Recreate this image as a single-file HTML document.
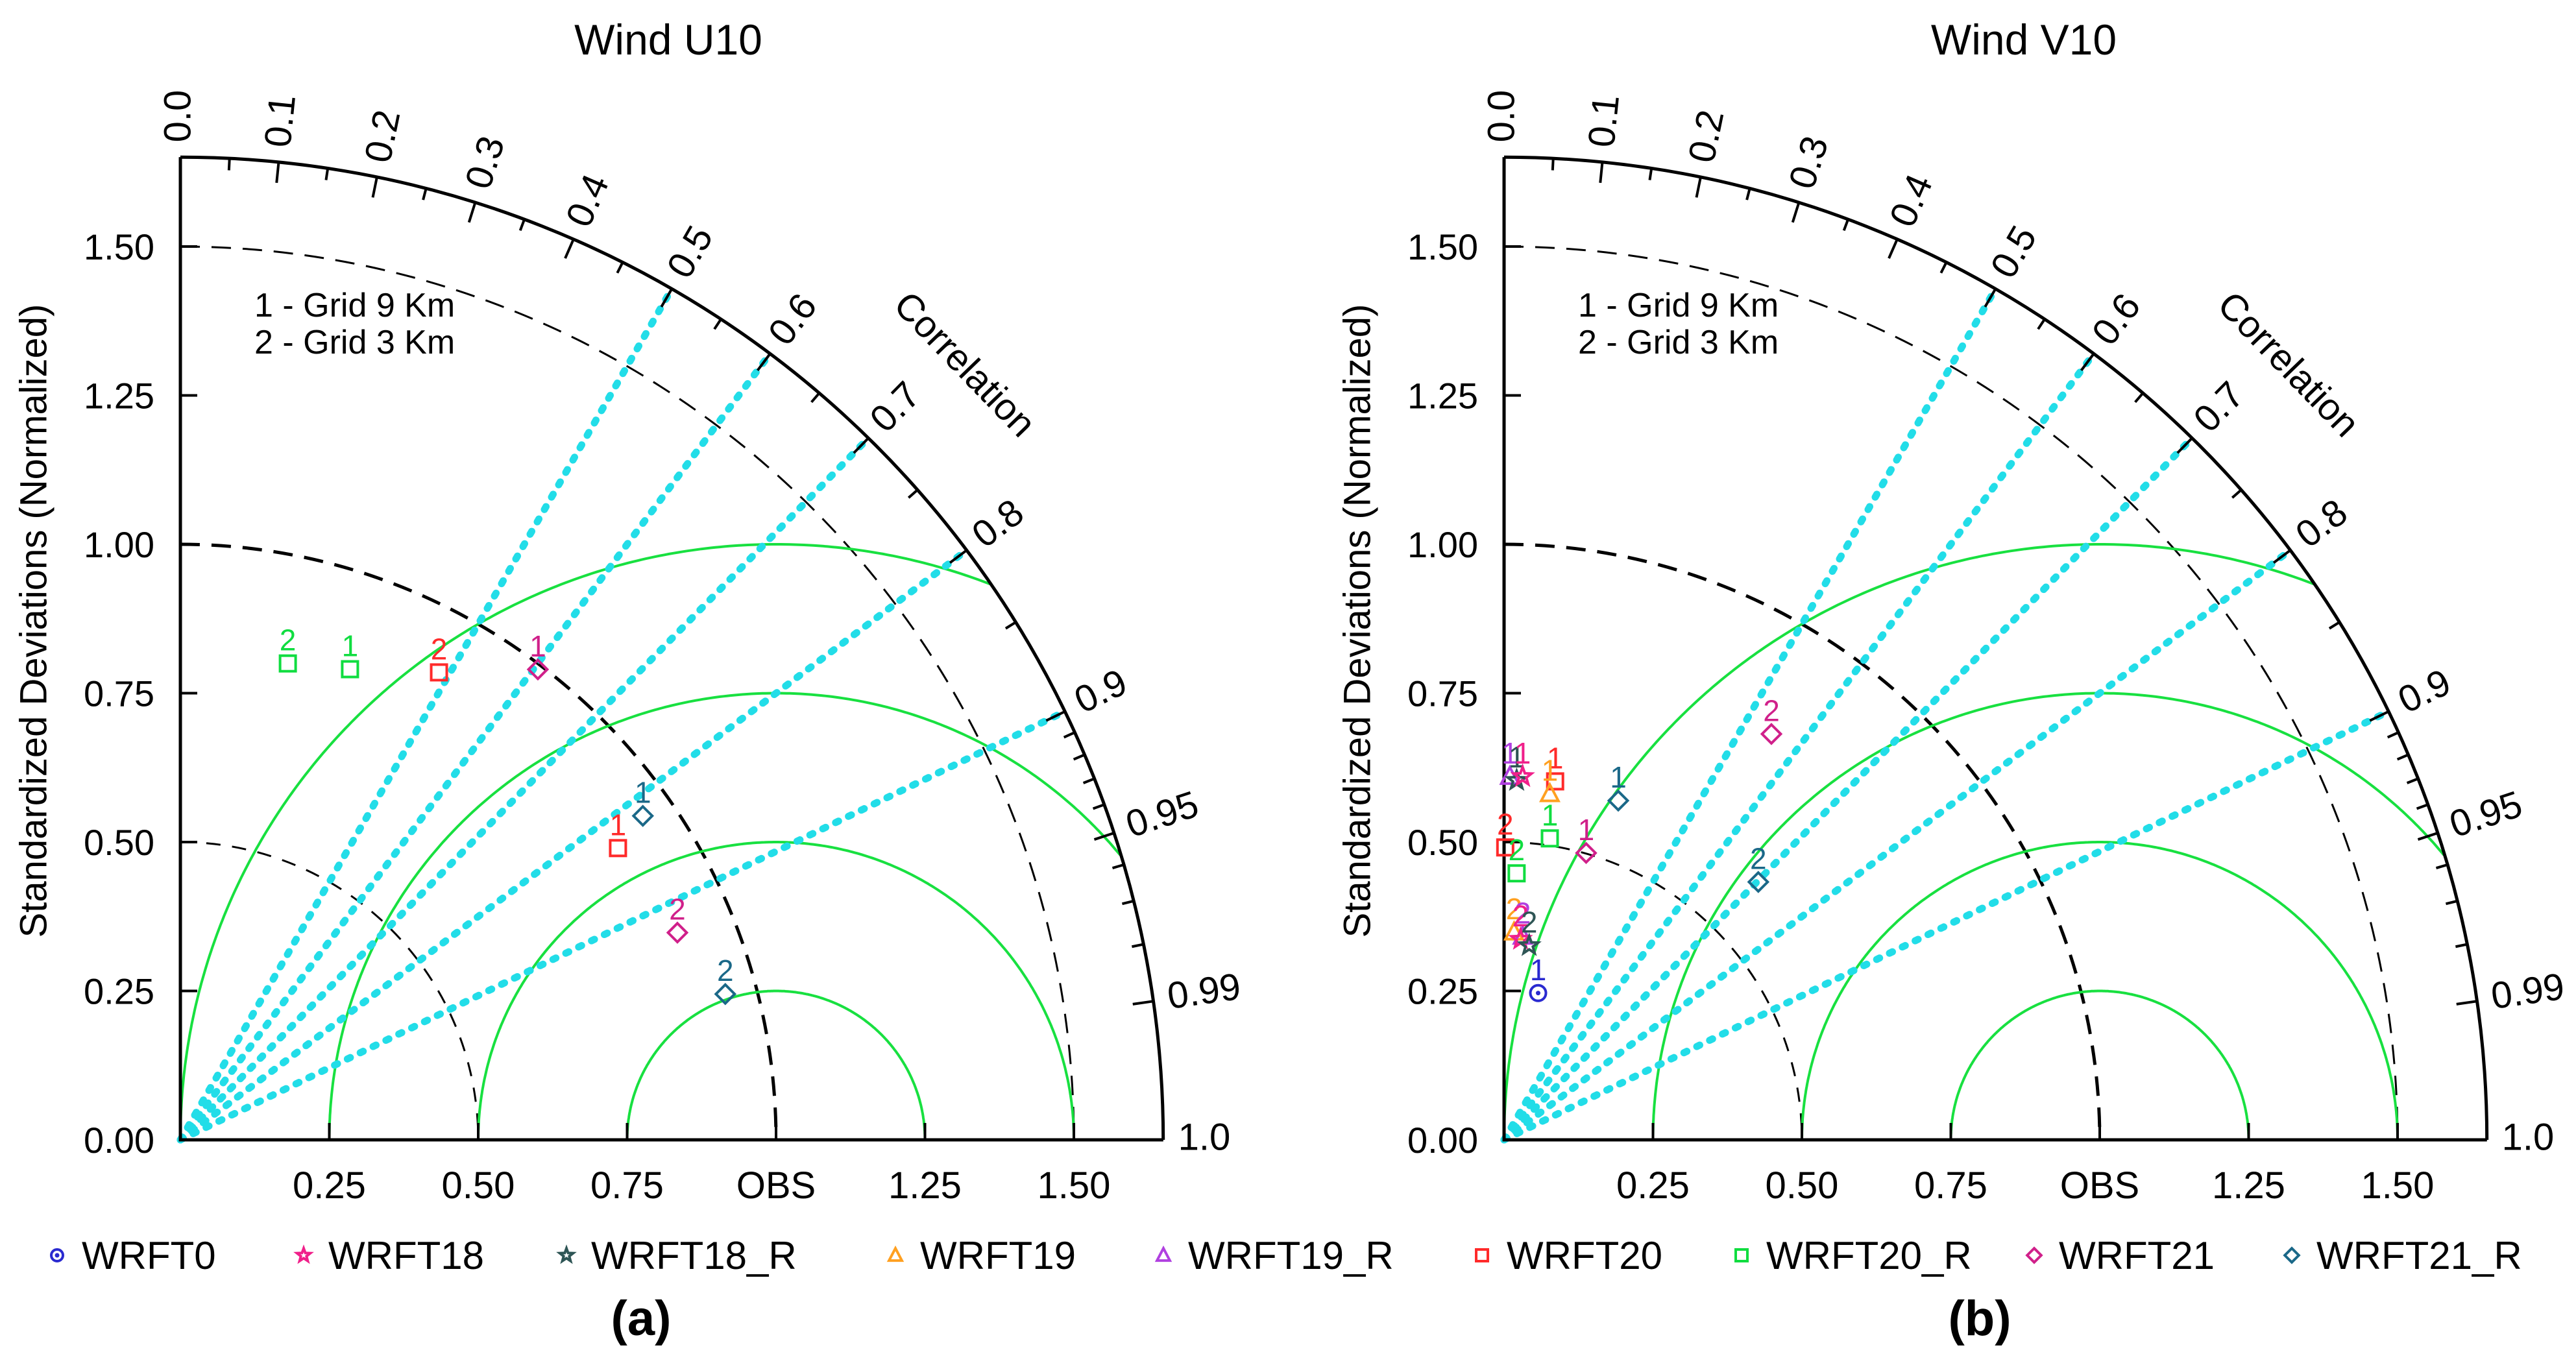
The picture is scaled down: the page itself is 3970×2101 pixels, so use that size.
<!DOCTYPE html>
<html><head><meta charset="utf-8"><style>
html,body{margin:0;padding:0;background:#fff;}
svg{display:block;font-family:"Liberation Sans",sans-serif;}
</style></head><body>
<svg id="fig" width="3970" height="2101" viewBox="0 0 3970 2101" xmlns="http://www.w3.org/2000/svg"></svg>
<script>
// ---- data ----
const seriesNames = ["WRFT0","WRFT18","WRFT18_R","WRFT19","WRFT19_R","WRFT20","WRFT20_R","WRFT21","WRFT21_R"];
const corrTickLabels = ["0.0","0.1","0.2","0.3","0.4","0.5","0.6","0.7","0.8","0.9","0.95","0.99","1.0"];
const corrTickValues = [0,0.1,0.2,0.3,0.4,0.5,0.6,0.7,0.8,0.9,0.95,0.99,1.0];
const stdTickValues = [0,0.25,0.5,0.75,1.0,1.25,1.5];
const stdTickLabels = ["0.00","0.25","0.50","0.75","1.00","1.25","1.50"];
const xTickLabels = ["","0.25","0.50","0.75","OBS","1.25","1.50"];
const refCorr = [0.5,0.6,0.7,0.8,0.9];
const rmsRadii = [0.25,0.5,0.75,1.0];
// U10 points
const u10Series = ["WRFT20_R","WRFT20_R","WRFT20","WRFT21","WRFT21_R","WRFT20","WRFT21","WRFT21_R"];
const u10Grid = ["2","1","2","1","1","1","2","2"];
const u10Std = [0.820,0.840,0.897,0.992,0.948,0.883,0.904,0.947];
const u10Corr = [0.220,0.339,0.484,0.605,0.819,0.832,0.923,0.966];
// V10 points
const v10Series = ["WRFT0","WRFT21","WRFT21_R","WRFT21","WRFT21_R","WRFT20","WRFT19","WRFT20_R","WRFT20","WRFT20_R","WRFT19_R","WRFT18_R","WRFT18","WRFT19","WRFT19_R","WRFT18","WRFT18_R"];
const v10Grid = ["1","2","1","1","2","1","1","1","2","2","1","1","1","2","2","2","2"];
const v10Std = [0.253,0.816,0.601,0.501,0.608,0.608,0.586,0.512,0.491,0.448,0.610,0.604,0.611,0.349,0.343,0.338,0.329];
const v10Corr = [0.226,0.550,0.319,0.275,0.702,0.141,0.131,0.150,0.004,0.047,0.016,0.035,0.051,0.048,0.091,0.082,0.128];

const styleMap = {
 "WRFT0":{c:"#2a2ad0",m:"circle"},"WRFT18":{c:"#f0208a",m:"star"},"WRFT18_R":{c:"#2e5555",m:"star"},
 "WRFT19":{c:"#ffa020",m:"tri"},"WRFT19_R":{c:"#b040e0",m:"tri"},"WRFT20":{c:"#ff2a2a",m:"square"},
 "WRFT20_R":{c:"#10dd40",m:"square"},"WRFT21":{c:"#d0208a",m:"diamond"},"WRFT21_R":{c:"#1a6888",m:"diamond"}
};
const NS="http://www.w3.org/2000/svg";
const svg=document.getElementById('fig');
function el(tag,attrs,parent,text){const e=document.createElementNS(NS,tag);for(const k in attrs)e.setAttribute(k,attrs[k]);if(text!==undefined)e.textContent=text;(parent||svg).appendChild(e);return e;}
const U=918, RMAX=1.65;

function marker(g,type,color,cx,cy,s){
 let e;
 if(type==="square") e=el('rect',{x:cx-s/2,y:cy-s/2,width:s,height:s,fill:'none',stroke:color,'stroke-width':4},g);
 else if(type==="diamond") e=el('polygon',{points:`${cx},${cy-s*0.6} ${cx+s*0.6},${cy} ${cx},${cy+s*0.6} ${cx-s*0.6},${cy}`,fill:'none',stroke:color,'stroke-width':4},g);
 else if(type==="tri") e=el('polygon',{points:`${cx},${cy-s*0.6} ${cx+s*0.55},${cy+s*0.45} ${cx-s*0.55},${cy+s*0.45}`,fill:'none',stroke:color,'stroke-width':4},g);
 else if(type==="circle"){e=el('circle',{cx:cx,cy:cy,r:s*0.5,fill:'none',stroke:color,'stroke-width':4},g);el('circle',{cx:cx,cy:cy,r:3.5,fill:color},g);}
 else { let p=[];for(let i=0;i<10;i++){const a=-Math.PI/2+i*Math.PI/5;const r=i%2?s*0.25:s*0.6;p.push((cx+r*Math.cos(a)).toFixed(1)+","+(cy+r*Math.sin(a)).toFixed(1));}
   e=el('polygon',{points:p.join(' '),fill:'none',stroke:color,'stroke-width':4},g);}
 return e;
}

function chart(ox,oy,title,tx,stdArr,corrArr,serArr,gridArr,key,panel,px){
 const g=el('g',{});
 
 
 const X=(v)=>ox+v*U, Y=(v)=>oy-v*U;
 const polar=(s,r)=>{const a=Math.acos(r);return [ox+s*U*Math.cos(a), oy-s*U*Math.sin(a)];};
 [[0.5,3,"22 18"],[1.0,5,"30 18"],[1.5,3,"30 18"]].forEach(([s,w,d])=>{
  const a=el('path',{d:`M${ox},${Y(s)} A${s*U},${s*U} 0 0 1 ${X(s)},${oy}`,fill:'none',stroke:'#000','stroke-width':w,'stroke-dasharray':d},g);
  
  
 });
 rmsRadii.forEach(rr=>{
  let pts=[];
  for(let i=0;i<=400;i++){const t=Math.PI*i/400;const x=1+rr*Math.cos(t), y=rr*Math.sin(t);
   if(x<0)continue; if(x*x+y*y>RMAX*RMAX)continue; pts.push(X(x).toFixed(1)+","+Y(y).toFixed(1));}
  const p=el('polyline',{points:pts.join(' '),fill:'none',stroke:'#18e040','stroke-width':4},g);
  
  
 });
 refCorr.forEach(r=>{
  const [x2,y2]=polar(RMAX,r);
  const l=el('line',{x1:ox,y1:oy,x2:x2,y2:y2,stroke:'#22dde8','stroke-width':11,'stroke-linecap':'round','stroke-dasharray':'5 17'},g);
  
  
 });
 const ax=el('path',{d:`M${ox},${Y(RMAX)} L${ox},${oy} L${X(RMAX)},${oy}`,fill:'none',stroke:'#000','stroke-width':5},g);
 
 
 const oa=el('path',{d:`M${ox},${Y(RMAX)} A${RMAX*U},${RMAX*U} 0 0 1 ${X(RMAX)},${oy}`,fill:'none',stroke:'#000','stroke-width':5},g);
 
 
 stdTickValues.forEach((v,i)=>{
  el('line',{x1:ox,y1:Y(v),x2:ox+26,y2:Y(v),stroke:'#000','stroke-width':4},g);
  const t=el('text',{x:ox-40,y:Y(v)+20,'font-size':56,'text-anchor':'end'},g,stdTickLabels[i]);
  
  
  if(v>0){
   el('line',{x1:X(v),y1:oy,x2:X(v),y2:oy-26,stroke:'#000','stroke-width':4},g);
   const tx2=el('text',{x:X(v),y:oy+90,'font-size':58,'text-anchor':'middle'},g,xTickLabels[i]);
   
   
  }
 });
 const minor=[0.05,0.15,0.25,0.35,0.45,0.55,0.65,0.75,0.85,0.91,0.92,0.93,0.94,0.96,0.97,0.98];
 minor.forEach(r=>{const [a1,b1]=polar(RMAX,r),[a2,b2]=polar(RMAX-0.02,r);el('line',{x1:a1,y1:b1,x2:a2,y2:b2,stroke:'#000','stroke-width':4},g);});
 corrTickValues.forEach((r,i)=>{
  const [a1,b1]=polar(RMAX,r),[a2,b2]=polar(RMAX-0.035,r);
  el('line',{x1:a1,y1:b1,x2:a2,y2:b2,stroke:'#000','stroke-width':4},g);
  const ang=Math.acos(r);const [lx,ly]=polar(RMAX+0.025,r);
  const deg=-ang*180/Math.PI;
  const t=el('text',{x:lx,y:ly,'font-size':58,'dominant-baseline':'middle',transform:`rotate(${deg} ${lx} ${ly})`},g,corrTickLabels[i]);
  
  
 });
 const cl=el('text',{x:ox+1195,y:oy-1182,'font-size':58,'text-anchor':'middle',transform:`rotate(46 ${ox+1195} ${oy-1182})`},g,'Correlation');
 
 
 const yt=el('text',{x:0,y:0,'font-size':58,'text-anchor':'middle','dominant-baseline':'middle'},g,'Standardized Deviations (Normalized)');
 yt.setAttribute('transform',`translate(${ox-222},${oy-800}) rotate(-90)`);
 
 
 const tt=el('text',{x:tx,y:84,'font-size':66,'text-anchor':'middle'},g,title);
 
 
 const k1=el('text',{x:ox+114,y:oy-1269,'font-size':52},g,'1 - Grid 9 Km');
 
 
 const k2=el('text',{x:ox+114,y:oy-1212,'font-size':52},g,'2 - Grid 3 Km');
 
 
 const pl=el('text',{x:px,y:2058,'font-size':76,'font-weight':'bold','text-anchor':'middle'},g,panel);
 
 
 stdArr.forEach((s,i)=>{
  const st=styleMap[serArr[i]];
  const [cx,cy]=polar(s,corrArr[i]);
  const m=marker(g,st.m,st.c,cx,cy,24);
  
  
  const lb=el('text',{x:cx,y:cy-20,'font-size':46,'text-anchor':'middle',fill:st.c},g,gridArr[i]);
  
  
 });
}
chart(278,1757,'Wind U10',1030,u10Std,u10Corr,u10Series,u10Grid,'u10','(a)',988);
chart(2318,1757,'Wind V10',3119,v10Std,v10Corr,v10Series,v10Grid,'v10','(b)',3051);

const legX=[88,468,873,1380,1793,2284,2684,3135,3532];
const lg=el('g',{});


seriesNames.forEach((n,i)=>{
 const st=styleMap[n];
 const m=marker(lg,st.m,st.c,legX[i],1935,18);
 
 
 const t=el('text',{x:legX[i]+38,y:1956,'font-size':60},lg,n);
 
 
});
</script>
</body></html>
